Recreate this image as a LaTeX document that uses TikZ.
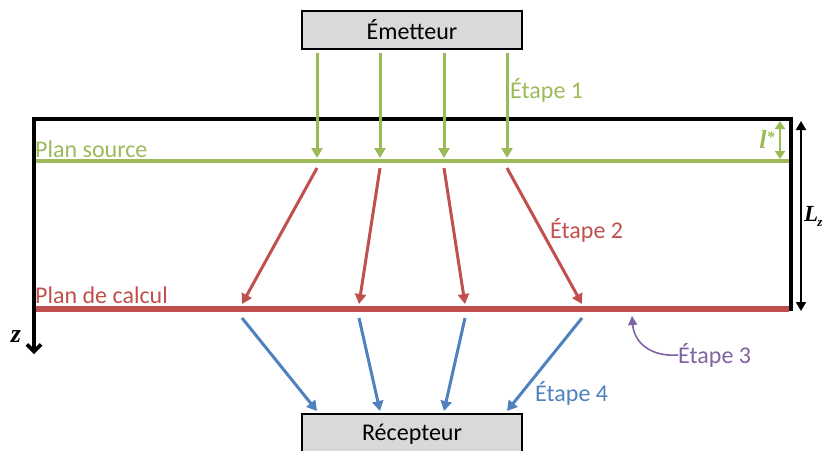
\documentclass[tikz,border=0pt]{standalone}
\usepackage{fontspec}
\setmainfont{Carlito}
\newfontfamily\mathlbl{Liberation Serif}
\usetikzlibrary{arrows.meta}
\definecolor{cgreen}{HTML}{9BBB59}
\definecolor{cred}{HTML}{C0504D}
\definecolor{cblue}{HTML}{4F81BD}
\definecolor{cpurple}{HTML}{8064A2}
\definecolor{cgray}{HTML}{D9D9D9}
\begin{document}
\begin{tikzpicture}[x=1pt,y=-1pt,
  every node/.style={font=\fontsize{24}{26}\selectfont, inner sep=0pt},
  boxnode/.style={draw=black, line width=1.8pt, fill=cgray, minimum width=220pt, minimum height=38pt},
  beam/.style={line width=3pt, -{Triangle[length=10pt,width=11pt]}},
  lbl/.style={anchor=west},
  mlbl/.style={font=\mathlbl\bfseries\itshape\fontsize{26}{28}\selectfont}
]
\useasboundingbox (0,0) rectangle (826,450);
% boxes
\node[boxnode] (em) at (412,30) {Émetteur};
\node[boxnode, minimum height=40pt] (rec) at (412,434) {Récepteur};
% frame
\coordinate (zt) at (34,354);
\coordinate (tl) at (34,119);
\coordinate (tr) at (791,119);
\coordinate (br) at (791,311);
\draw[line width=3.6pt, {Straight Barb[length=7pt,width=14pt]}-] (zt) -- (tl) -- (tr) -- (br);
\node[mlbl] (z) at (16,337) {z};
% planes
\coordinate (gs) at (36,161); \coordinate (ge) at (789,161);
\draw[cgreen, line width=4pt] (gs) -- (ge);
\coordinate (rs) at (36,309); \coordinate (re) at (789,309);
\draw[cred, line width=5.7pt] (rs) -- (re);
\node[lbl, text=cgreen] (ps) at (35,149) {Plan source};
\node[lbl, text=cred] (pc) at (35,295) {Plan de calcul};
% green arrows
\foreach \x [count=\i] in {317,380,444,507}{
  \coordinate (ga\i) at (\x,53);
  \coordinate (gb\i) at (\x,158);
  \draw[cgreen, beam] (ga\i) -- (gb\i);
}
\node[lbl, text=cgreen] (e1) at (510,90) {Étape 1};
% red arrows
\foreach \x/\y [count=\i] in {317/242,380/359,444/465,507/582}{
  \coordinate (ra\i) at (\x,168);
  \coordinate (rb\i) at (\y,304);
  \draw[cred, beam] (ra\i) -- (rb\i);
}
\node[lbl, text=cred] (e2) at (550,230) {Étape 2};
% blue arrows
\foreach \x/\y [count=\i] in {242/317,359/380,465/444,582/507}{
  \coordinate (ba\i) at (\x,318);
  \coordinate (bb\i) at (\y,411);
  \draw[cblue, beam] (ba\i) -- (bb\i);
}
\node[lbl, text=cblue] (e4) at (535,393) {Étape 4};
% etape 3
\node[lbl, text=cpurple] (e3) at (678,355) {Étape 3};
\coordinate (p3) at (632,316);
\draw[cpurple, line width=1.6pt, -{Triangle[length=9pt,width=9pt]}] (e3.west) .. controls (650,357) and (634,342) .. (p3);
% l*
\coordinate (la) at (780,121); \coordinate (lb) at (780,159);
\draw[cgreen, line width=2.4pt, {Triangle[length=8pt,width=10pt]}-{Triangle[length=8pt,width=10pt]}] (la) -- (lb);
\node[mlbl, text=cgreen] (ls) at (767,139) {l\raisebox{6pt}{\fontsize{16}{18}\selectfont *}};
% Lz
\coordinate (Lza) at (801,121); \coordinate (Lzb) at (801,311);
\draw[black, line width=2pt, {Triangle[length=9pt,width=10pt]}-{Triangle[length=9pt,width=10pt]}] (Lza) -- (Lzb);
\node[mlbl, anchor=west, font=\mathlbl\bfseries\itshape\fontsize{23}{25}\selectfont] (Lz) at (804,216) {L\kern-1pt\raisebox{-5pt}{\fontsize{13}{15}\selectfont z}};
\end{tikzpicture}
\end{document}
